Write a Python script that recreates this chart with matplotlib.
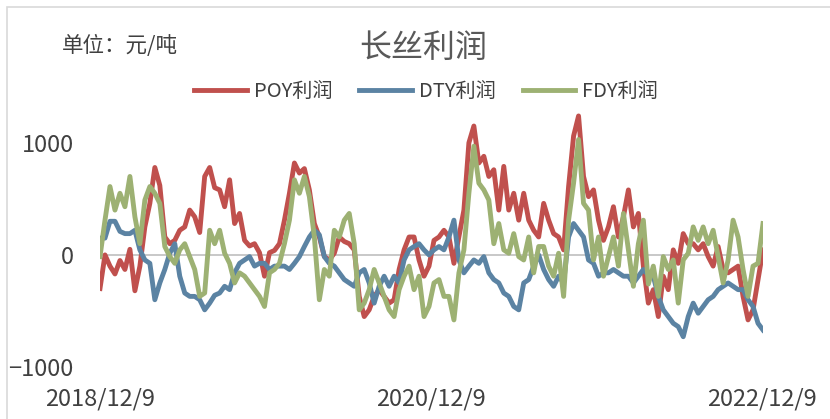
import numpy as np
import pandas as pd
import matplotlib
matplotlib.use("Agg")
import matplotlib.pyplot as plt
from matplotlib.patches import Rectangle

plt.rcParams["font.family"] = ["Noto Sans CJK SC", "DejaVu Sans"]

# sampled roughly every 11 days from 2018/12/9
dates = pd.date_range("2018-12-09", periods=134, freq="11D")

poy = [
    -300, 0, -100, -170, -50, -130, 50, -320, -100, 250, 460, 780, 620, 160, 100, 130, 220, 250, 400, 340, 200, 700, 780,
    600, 580, 430, 670, 280, 370, 130, 80, 100, 20, -190, 20, 40, 100, 310, 550, 820, 730, 770, 580, 280, 160,
    -15, -45, 15, 160, 120, 100, 45, -370, -550, -490, -370, -310, -370, -430, -400, -130, 45, 160, 160, -45, -190, -100,
    130, 160, 220, 160, -75, 160, 400, 1000, 1150, 820, 880, 700, 760, 400, 790, 400, 550, 310, 550, 310, 220, 160,
    460, 310, 190, 160, 45, 610, 1060, 1240, 700, 520, 580, 310, 130, 250, 430, 160, 340, 580, 250, 370, -100, -430,
    -310, -550, -190, -310, 45, -75, 190, 100, 100, 45, 100, -15, -100, 75, -130, -160, -130, -100, -370, -580, -490, -220, 45,
]
dty = [
    150, 150, 300, 300, 210, 190, 190, 220, 45, -45, -75, -400, -250, -130, 15, 100, -190, -340, -370, -370, -400, -490, -430,
    -360, -340, -280, -310, -160, -75, -45, -15, -100, -75, -75, -130, -100, -100, -100, -130, -75, -15, 75, 160, 220, 180,
    -15, -75, -100, -160, -220, -250, -280, -160, -130, -250, -430, -280, -190, -280, -190, -250, -45, 45, 75, 100, 45, 0,
    45, 75, 45, 160, 310, -45, -160, -100, -45, -75, -15, -160, -220, -250, -340, -370, -460, -490, -250, -220, -100, 0,
    -130, -220, -280, -190, -250, 160, 280, 220, 160, -45, -75, -190, -160, -160, -130, -160, -190, -190, -250, -190, -130, -180,
    -190, -370, -490, -550, -610, -640, -730, -550, -430, -520, -460, -400, -370, -310, -280, -250, -280, -310, -310, -400, -460, -610, -670,
]
fdy = [
    -15, 310, 610, 400, 550, 430, 700, 340, 100, 490, 610, 550, 460, 75, -15, -75, 45, 100, -15, -130, -370, -340, 220,
    100, 220, 15, -75, -250, -160, -190, -250, -310, -370, -460, -160, -130, -75, 100, 310, 670, 550, 700, 520, 160, -400,
    -130, -190, 220, 160, 310, 370, 100, -490, -430, -310, -130, -250, -370, -490, -550, -310, -190, -100, -310, -190, -550, -460,
    -250, -220, -370, -370, -580, -160, 45, 550, 970, 640, 580, 490, 100, 280, 45, 15, 190, -15, -45, 160, -160, 75,
    75, -100, -190, 15, -370, 310, 640, 1030, 460, 400, -45, 160, -190, -15, 160, -100, 370, 45, -280, 100, 310, -260,
    -100, -370, -15, -130, -45, -430, -45, 15, 250, 130, 250, 100, 220, -15, -250, -45, 310, 160, -130, -370, -100, -75, 280,
]

series_names = ["POY利润", "DTY利润", "FDY利润"]
colors = ["#C0504D", "#5B83A3", "#9DB173"]
tick_dates = ["2018-12-09", "2020-12-09", "2022-12-09"]
tick_labels = ["2018/12/9", "2020/12/9", "2022/12/9"]

fig = plt.figure(figsize=(8.3, 4.19), dpi=100)
ax = fig.add_axes([100 / 830, 52 / 419, 663 / 830, 269 / 419])

ax.axhline(0, color="#BFBFBF", lw=1.2, zorder=1)
for vals, name, c in zip([poy, dty, fdy], series_names, colors):
    ax.plot(dates, vals, color=c, lw=3.5, label=name, solid_joinstyle="round", zorder=2)

ax.set_xlim(dates[0], dates[-1])
ax.set_ylim(-1000, 1400)
ax.set_yticks([-1000, 0, 1000])
ax.set_xticks(pd.to_datetime(tick_dates))
ax.set_xticklabels(tick_labels)
ax.tick_params(axis="y", length=0, pad=19, labelsize=17, labelcolor="#404040")
ax.tick_params(axis="x", length=0, pad=15, labelsize=17, labelcolor="#404040")
for s in ax.spines.values():
    s.set_visible(False)

fig.text(423 / 830, 1 - 48 / 419, "长丝利润", ha="center", va="center", fontsize=23, color="#595959")
fig.text(62 / 830, 1 - 46 / 419, "单位：元/吨", ha="left", va="center", fontsize=15.5, color="#404040")

fig.legend(loc="center", bbox_to_anchor=(426 / 830, 1 - 92 / 419), ncol=3, frameon=False,
           fontsize=14.5, handlelength=2.6, handletextpad=0.35, columnspacing=1.35,
           labelcolor="#404040")

fig.patches.append(Rectangle((7 / 830, -0.1), 1.2, 1.1 - 7 / 419, transform=fig.transFigure,
                             fill=False, edgecolor="#D9D9D9", lw=1.2))

fig.savefig("out.png", dpi=100, facecolor="white")
